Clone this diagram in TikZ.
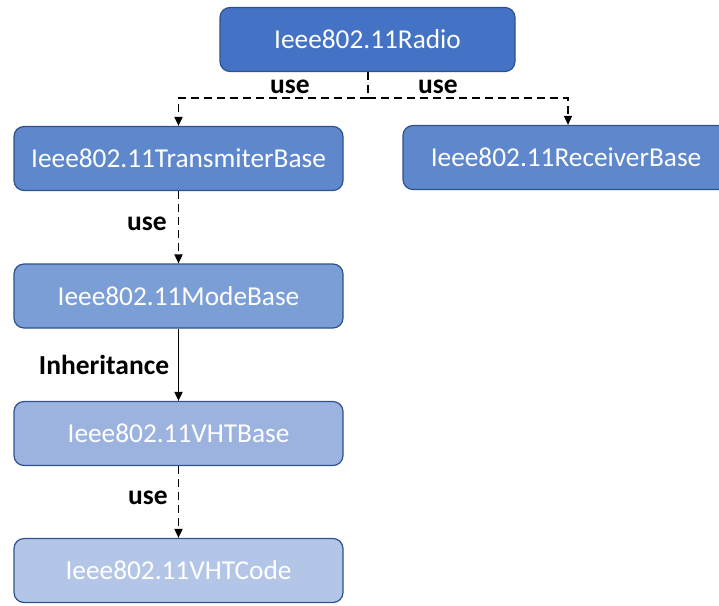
\documentclass[tikz,border=0pt]{standalone}
\usepackage{fontspec}
\setmainfont{Carlito}
\usetikzlibrary{arrows.meta}
\definecolor{cA}{HTML}{4472C4}
\definecolor{cB}{HTML}{5F87CC}
\definecolor{cC}{HTML}{7C9ED6}
\definecolor{cD}{HTML}{9BB3DE}
\definecolor{cE}{HTML}{B3C6E7}
\definecolor{cBorder}{HTML}{2F528F}
\tikzset{
  box/.style={draw=cBorder, line width=1.2pt, rounded corners=10pt, minimum height=64pt,
    text=white, font=\fontsize{27.3}{32}\selectfont, inner sep=0pt, anchor=center},
  conn/.style={line width=1.7pt, -{Triangle[length=9pt,width=8pt]}},
  dconn/.style={conn, dash pattern=on 8pt off 5pt},
  lbl/.style={font=\fontsize{27.5}{32}\selectfont\bfseries, inner sep=0pt}
}
\begin{document}
\begin{tikzpicture}[x=1pt,y=-1pt]
\useasboundingbox (0,0) rectangle (719,605);
\clip (0,0) rectangle (719,605);
\node[box, fill=cA, minimum width=295pt] (radio) at (367.5,39.5) {Ieee802.11Radio};
\node[box, fill=cB, minimum width=329pt] (trans) at (178.5,158.5) {Ieee802.11TransmiterBase};
\node[box, fill=cB, minimum width=326pt] (recv) at (566,157.5) {Ieee802.11ReceiverBase};
\node[box, fill=cC, minimum width=329pt] (mode) at (178.5,296) {Ieee802.11ModeBase};
\node[box, fill=cD, minimum width=329pt] (vht) at (178.5,433.5) {Ieee802.11VHTBase};
\node[box, fill=cE, minimum width=329pt] (code) at (178.5,570.5) {Ieee802.11VHTCode};
\coordinate (j) at (368,98);
\coordinate (jl) at (178.5,98);
\coordinate (jr) at (568,98);
\draw[line width=1.7pt, dash pattern=on 8pt off 5pt] (radio.south -| j) -- (j);
\draw[dconn] (j) -- (jl) -- (jl |- trans.north);
\draw[dconn] (j) -- (jr) -- (jr |- recv.north);
\node[lbl] (u1) at (290,87) {use};
\node[lbl] (u2) at (438,87) {use};
\draw[dconn] (trans.south) -- (mode.north);
\node[lbl] (u3) at (147,224) {use};
\draw[conn] (mode.south) -- (vht.north);
\node[lbl] (inh) at (104,365) {Inheritance};
\draw[dconn] (vht.south) -- (code.north);
\node[lbl] (u4) at (148,498) {use};
\end{tikzpicture}
\end{document}
